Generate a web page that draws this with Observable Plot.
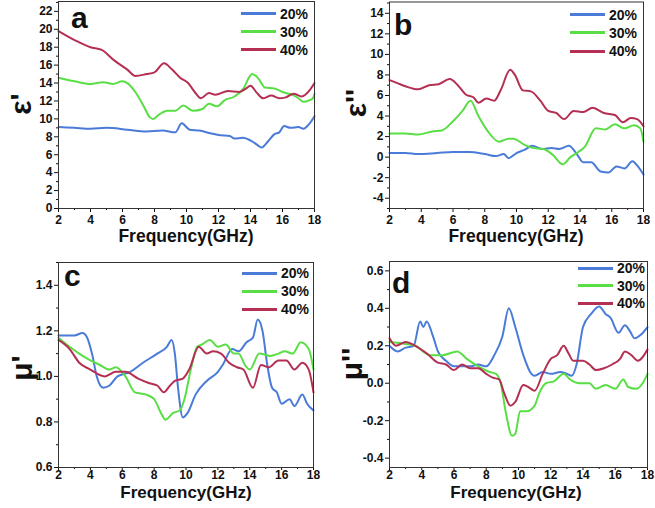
<!DOCTYPE html>
<html><head><meta charset="utf-8">
<script src="https://cdn.jsdelivr.net/npm/d3@7"></script>
<script src="https://cdn.jsdelivr.net/npm/@observablehq/plot@0.6"></script>
<style>
body{margin:0;background:#fff;}
#root{position:relative;width:655px;height:508px;overflow:hidden;font-family:"Liberation Sans",Arial,sans-serif;font-weight:bold;color:#111;}
.abs{position:absolute;white-space:nowrap;}
.letter{font-size:30px;line-height:34px;}
.ylab{font-size:30px;line-height:30px;transform:translate(-50%,-50%) rotate(-90deg);}
.xlab{font-size:17.5px;line-height:14px;transform:translateX(-50%);}
.xlab.low{font-size:17px;}
.leg{display:flex;align-items:center;font-size:14px;height:16px;}
.leg .sw{display:inline-block;width:35px;height:3px;margin-right:4px;}
</style></head>
<body><div id="root"></div>
<script>
// ---- data ----
const seriesNames = ["20%", "30%", "40%"];
const seriesColors = ["#4a7bd9", "#5ade46", "#b42f52"];
const freqTicks = [2, 4, 6, 8, 10, 12, 14, 16, 18];
const freqMinor = [3, 5, 7, 9, 11, 13, 15, 17];

// panel a: epsilon'
const a20 = [[2,9.1],[3,9.0],[4,8.9],[5,9.0],[6.3,8.8],[7.5,8.6],[8.5,8.7],[9.3,8.5],[9.7,9.5],[10.2,8.8],[10.8,8.7],[11.5,8.4],[12,8.2],[12.7,8.1],[13,7.8],[13.5,7.9],[14.1,7.5],[14.5,7.0],[14.7,6.8],[15.1,7.5],[15.5,8.3],[15.8,8.5],[16.1,9.2],[16.5,9.0],[17,9.1],[17.3,8.9],[17.7,9.5],[18,10.3]];
const a30 = [[2,14.6],[3,14.2],[4,13.9],[4.8,14.1],[5.4,13.9],[6,14.2],[6.3,14.0],[6.8,13.0],[7.3,11.5],[7.7,10.2],[7.9,10.0],[8.3,10.5],[8.8,10.9],[9.3,10.9],[9.8,11.5],[10.4,10.9],[11,11.1],[11.4,11.7],[11.9,11.4],[12.4,12.1],[13,12.5],[13.6,13.5],[13.9,14.6],[14.1,15.0],[14.5,14.5],[14.9,13.5],[15.5,13.4],[16,13.0],[16.6,12.7],[17,12.3],[17.3,11.9],[17.7,12.1],[17.9,12.3],[18,12.8]];
const a40 = [[2,19.8],[3,18.8],[4,18.0],[4.7,17.7],[5.5,16.5],[6.3,15.5],[6.8,14.8],[7.5,15.0],[8,15.2],[8.6,16.2],[9.1,15.5],[9.6,14.6],[10.1,14.0],[10.6,12.8],[10.9,12.3],[11.4,12.9],[11.8,12.7],[12.6,13.1],[13.3,13.0],[13.8,13.5],[14,13.7],[14.4,12.9],[14.8,12.3],[15.3,12.6],[15.8,12.3],[16.2,12.4],[16.7,12.8],[17.2,12.5],[17.7,13.2],[18,14.0]];

// panel b: epsilon''
const b20 = [[2,0.4],[3,0.4],[3.8,0.3],[5,0.4],[6,0.5],[7,0.5],[8,0.3],[8.7,0.1],[9.2,0.3],[9.5,-0.1],[10,0.4],[10.5,0.7],[11,1.1],[11.6,0.8],[12.2,0.9],[12.7,0.8],[13.3,1.1],[13.8,0.3],[14.2,-0.5],[14.7,-0.5],[15.3,-1.4],[15.8,-1.5],[16.3,-0.9],[16.8,-1.1],[17.3,-0.4],[17.6,-0.8],[18,-1.7]];
const b30 = [[2,2.3],[3,2.3],[3.8,2.2],[4.7,2.5],[5.3,2.6],[6,3.5],[6.6,4.5],[7.1,5.5],[7.6,4.0],[8.2,2.5],[8.9,1.5],[9.5,1.8],[9.8,1.8],[10.5,1.2],[11,0.9],[11.7,0.8],[12.3,0.2],[12.9,-0.7],[13.4,0.0],[13.9,0.5],[14.3,1.0],[15,2.8],[15.6,2.7],[16.2,3.2],[16.8,2.8],[17.4,3.1],[17.8,2.8],[18,1.5]];
const b40 = [[2,7.5],[2.5,7.2],[3,6.9],[3.8,6.6],[4.5,7.0],[5.1,7.1],[5.8,7.6],[6.3,7.0],[6.8,6.1],[7.3,5.8],[7.6,5.3],[8.1,5.7],[8.6,5.5],[9.0,6.5],[9.6,8.5],[9.9,8.0],[10.4,6.5],[10.9,6.4],[11.5,5.5],[12,4.5],[12.5,4.3],[13,3.7],[13.6,4.5],[14.2,4.4],[14.8,4.8],[15.5,4.3],[16.2,4.1],[16.7,3.4],[17.2,3.8],[17.6,3.7],[18,3.0]];

// panel c: mu'
const c20 = [[2,1.18],[3,1.18],[3.5,1.19],[3.8,1.17],[4.1,1.10],[4.4,1.00],[4.8,0.95],[5.2,0.96],[5.7,1.00],[6.5,1.02],[7.3,1.06],[8.2,1.10],[8.8,1.13],[9.1,1.16],[9.3,1.10],[9.5,0.95],[9.8,0.82],[10.1,0.84],[10.6,0.92],[11.3,0.98],[12,1.02],[12.3,1.05],[12.9,1.12],[13.3,1.11],[13.8,1.15],[14.2,1.17],[14.5,1.25],[14.8,1.20],[15.1,1.05],[15.4,0.95],[15.7,0.93],[16,0.88],[16.5,0.90],[16.8,0.87],[17.3,0.92],[17.6,0.88],[18,0.85]];
const c30 = [[2,1.17],[2.7,1.13],[3.3,1.10],[4,1.07],[4.6,1.05],[5.2,1.03],[5.6,1.04],[6.2,1.00],[6.8,0.93],[7.5,0.92],[8,0.90],[8.5,0.83],[8.7,0.81],[9.2,0.84],[9.6,0.85],[9.9,0.90],[10.3,1.03],[10.7,1.13],[11,1.14],[11.5,1.16],[12,1.13],[12.5,1.14],[13,1.10],[13.3,1.10],[13.7,1.05],[14,1.03],[14.6,1.10],[15.3,1.09],[15.8,1.10],[16.2,1.11],[16.7,1.10],[17.2,1.15],[17.7,1.12],[18,1.03]];
const c40 = [[2,1.16],[2.7,1.12],[3.3,1.06],[4,1.03],[4.9,1.00],[5.6,1.02],[6.2,1.02],[7,0.99],[7.7,0.97],[8.2,0.96],[8.6,0.93],[9,0.96],[9.3,0.98],[9.8,0.99],[10.2,1.03],[10.8,1.13],[11.3,1.10],[11.7,1.11],[12.2,1.10],[12.7,1.06],[13.2,1.04],[13.6,1.03],[14.2,0.95],[14.7,1.05],[15.2,1.04],[15.8,1.07],[16.3,1.07],[16.8,1.03],[17.3,1.06],[17.7,1.03],[18,0.93]];

// panel d: mu''
const d20 = [[2,0.20],[2.5,0.17],[3,0.19],[3.5,0.20],[3.9,0.33],[4.1,0.30],[4.3,0.33],[4.7,0.25],[5,0.17],[5.5,0.12],[6,0.09],[7,0.09],[7.5,0.10],[8,0.09],[8.5,0.15],[9,0.25],[9.4,0.40],[9.8,0.30],[10.3,0.15],[10.8,0.05],[11,0.04],[11.5,0.06],[12,0.05],[12.6,0.06],[13,0.05],[13.3,0.04],[13.6,0.10],[14,0.30],[14.5,0.37],[15,0.41],[15.4,0.37],[15.7,0.35],[16.2,0.27],[16.6,0.31],[16.9,0.28],[17.2,0.24],[17.6,0.26],[18,0.30]];
const d30 = [[2,0.22],[3,0.21],[3.6,0.20],[4.5,0.15],[5.3,0.15],[6.2,0.17],[6.8,0.13],[7.5,0.09],[8.2,0.06],[8.6,0.05],[8.9,0.00],[9.2,-0.15],[9.6,-0.28],[9.8,-0.27],[10.1,-0.15],[10.5,-0.15],[11,-0.12],[11.3,-0.05],[11.7,0.00],[12.2,0.01],[12.8,0.05],[13.2,0.02],[13.8,0.00],[14.4,0.00],[14.8,-0.03],[15.4,-0.01],[16,-0.03],[16.5,0.02],[16.8,-0.02],[17.3,-0.03],[17.7,0.00],[18,0.05]];
const d40 = [[2,0.24],[2.4,0.20],[3,0.22],[3.6,0.20],[4.3,0.16],[5,0.11],[5.5,0.10],[6,0.07],[6.5,0.10],[7,0.08],[7.5,0.08],[8,0.05],[8.4,0.03],[8.8,0.02],[9.1,-0.05],[9.5,-0.12],[9.8,-0.10],[10.3,-0.01],[10.6,-0.02],[11,-0.04],[11.5,0.05],[12,0.13],[12.4,0.15],[12.8,0.20],[13.1,0.16],[13.4,0.12],[14,0.12],[14.4,0.10],[14.8,0.07],[15.3,0.08],[15.8,0.10],[16.3,0.13],[16.6,0.17],[17,0.15],[17.4,0.12],[18,0.18]];

const aYTicks = [0,2,4,6,8,10,12,14,16,18,20,22];
const bYTicks = [-4,-2,0,2,4,6,8,10,12,14];
const cYTicks = [0.6,0.8,1.0,1.2,1.4];
const dYTicks = [-0.4,-0.2,0.0,0.2,0.4,0.6];

// ---- layout ----
const root = document.getElementById("root");

function addDiv(cls, text, style) {
  const el = document.createElement("div");
  el.className = "abs " + cls;
  el.textContent = text;
  Object.assign(el.style, style);
  root.appendChild(el);
  return el;
}

function panel(p) {
  const data = p.series.flatMap((s, i) => s.map(([x, y]) => ({x, y, k: seriesNames[i]})));
  const chart = Plot.plot({
    width: p.width, height: p.height,
    marginLeft: p.ml, marginRight: p.mr, marginTop: p.mt, marginBottom: p.mb,
    x: {domain: [2, 18]},
    y: {domain: p.yDomain},
    color: {domain: seriesNames, range: seriesColors},
    style: {fontFamily: "'Liberation Sans', Arial, sans-serif", fontSize: "12px", fontWeight: "bold", color: "#111", background: "transparent", overflow: "visible"},
    marks: [
      Plot.axisX({ticks: freqTicks, tickSize: p.xts, tickPadding: p.xtp, tickFormat: d => String(d), label: null}),
      Plot.axisX({ticks: freqMinor, tickSize: 2, tickFormat: () => "", label: null}),
      Plot.axisY({ticks: p.yTicks, tickSize: 4, tickPadding: 2, tickFormat: p.fmt, label: null}),
      Plot.axisY({ticks: p.yMinor, tickSize: 2, tickFormat: () => "", label: null}),
      Plot.line(data, {x: "x", y: "y", z: "k", stroke: "k", strokeWidth: 2, curve: "monotone-x"}),
      Plot.frame({stroke: "#333", strokeWidth: 1})
    ]
  });
  chart.style.position = "absolute";
  chart.style.left = p.left + "px";
  chart.style.top = p.top + "px";
  root.appendChild(chart);

  addDiv("letter", p.letter, {left: p.letterPos[0] + "px", top: p.letterPos[1] + "px"});
  addDiv("ylab", p.ylabel, {left: p.ylabPos[0] + "px", top: p.ylabPos[1] + "px"});
  addDiv("xlab" + (p.low ? " low" : ""), "Frequency(GHz)", {left: p.xlabPos[0] + "px", top: p.xlabPos[1] + "px"});
  seriesNames.forEach((name, i) => {
    const row = document.createElement("div");
    row.className = "abs leg";
    row.style.left = p.legX + "px";
    row.style.top = (p.legY[i] - 8) + "px";
    const sw = document.createElement("span");
    sw.className = "sw";
    sw.style.background = seriesColors[i];
    row.appendChild(sw);
    const t = document.createElement("span");
    t.textContent = name;
    row.appendChild(t);
    root.appendChild(row);
  });
}

const intFmt = d => String(d);
const decFmt = d => d.toFixed(1);

panel({left: 0, top: 0, width: 327, height: 252, ml: 58, mr: 13, mt: 1, mb: 44, xts: 4, xtp: 3,
  yDomain: [0, 23.1], yTicks: aYTicks, yMinor: aYTicks.map(v => v + 1), fmt: intFmt,
  series: [a20, a30, a40], letter: "a", letterPos: [71, 1], ylabel: "ε'", ylabPos: [21, 104],
  xlabPos: [186, 229], legX: 241, legY: [13.5, 31.5, 49.5]});

panel({left: 327, top: 0, width: 328, height: 252, ml: 62, mr: 12, mt: 1.5, mb: 44, xts: 4, xtp: 3,
  yDomain: [-5, 15.1], yTicks: bYTicks, yMinor: [-5,-3,-1,1,3,5,7,9,11,13,15], fmt: intFmt,
  series: [b20, b30, b40], letter: "b", letterPos: [394, 7.5], ylabel: "ε''", ylabPos: [356, 103],
  xlabPos: [516, 229], legX: 570, legY: [14.5, 32.5, 51]});

panel({left: 0, top: 252, width: 327, height: 256, ml: 58, mr: 14, mt: 10, mb: 41, xts: 3, xtp: 0,
  yDomain: [0.6, 1.5], yTicks: cYTicks, yMinor: [0.7, 0.9, 1.1, 1.3, 1.5], fmt: decFmt,
  series: [c20, c30, c40], letter: "c", letterPos: [64, 259], ylabel: "μ'", ylabPos: [22, 368],
  xlabPos: [186, 485.5], low: true, legX: 242, legY: [273, 291, 309]});

panel({left: 327, top: 252, width: 328, height: 256, ml: 62, mr: 8, mt: 9, mb: 41, xts: 3, xtp: 0,
  yDomain: [-0.45, 0.65], yTicks: dYTicks, yMinor: [-0.3, -0.1, 0.1, 0.3, 0.5], fmt: decFmt,
  series: [d20, d30, d40], letter: "d", letterPos: [392, 265.5], ylabel: "μ''", ylabPos: [352, 364],
  xlabPos: [516, 485.5], low: true, legX: 578, legY: [268, 285.5, 303]});
</script>
</body></html>
